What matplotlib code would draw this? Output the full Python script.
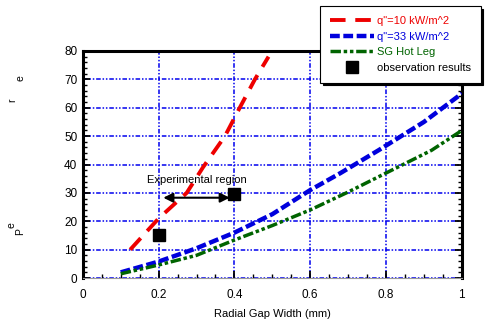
import matplotlib
matplotlib.use('Agg')
import matplotlib.pyplot as plt
from matplotlib.ticker import MultipleLocator

# curve data
red_x = [0.125, 0.2, 0.274, 0.317, 0.375, 0.414, 0.454, 0.49]
red_y = [10, 21, 30, 39, 50, 60, 70, 78]
blue_x = [0.1, 0.2, 0.3, 0.4, 0.5, 0.6, 0.68, 0.78, 0.9, 1.0]
blue_y = [2, 5.8, 10.5, 16, 22.5, 31, 37, 45, 55, 65]
green_x = [0.1, 0.2, 0.3, 0.4, 0.5, 0.6, 0.7, 0.8, 0.92, 1.0]
green_y = [1.5, 4.6, 8, 13.4, 18.5, 24, 30.3, 37, 45, 52]
obs_x = [0.2, 0.4]
obs_y = [15, 29.5]
labels = ['q"=10 kW/m^2', 'q"=33 kW/m^2', 'SG Hot Leg', 'observation results']
xticks = [0, 0.2, 0.4, 0.6, 0.8, 1.0]
xtick_labels = ['0', '0.2', '0.4', '0.6', '0.8', '1']

plt.rcParams['font.family'] = ['Liberation Sans', 'DejaVu Sans']
fig = plt.figure(figsize=(5.02, 3.31), dpi=100)
ax = fig.add_axes([0.165, 0.160, 0.755, 0.686])

grid_kw = dict(color='#0000ee', lw=1.1, dashes=(3, 1.2, 1, 1.2, 1, 1.2), zorder=1)
for gx in [0.2, 0.4, 0.6, 0.8]:
    ax.axvline(gx, **grid_kw)
for gy in [0, 10, 20, 30, 40, 50, 60, 70, 80]:
    ax.axhline(gy, **grid_kw)

l1, = ax.plot(red_x, red_y, color='#ee0000', lw=2.8, dashes=(4, 2.5), zorder=3)
l2, = ax.plot(blue_x, blue_y, color='#0000dd', lw=3.2, dashes=(2.2, 0.8), zorder=3)
l3, = ax.plot(green_x, green_y, color='#006400', lw=2.5, dashes=(3, 0.8, 1, 0.8, 1, 0.8), zorder=3)
l4, = ax.plot(obs_x, obs_y, 's', color='black', ms=8, ls='none', zorder=4)

ax.annotate('', xy=(0.205, 28.3), xytext=(0.395, 28.3),
            arrowprops=dict(arrowstyle='<|-|>', color='black', lw=1.5, mutation_scale=14), zorder=5)
ax.text(0.3, 34.5, 'Experimental region', ha='center', va='center', fontsize=8)

ax.set_xlim(0, 1)
ax.set_ylim(0, 80)
ax.set_xticks(xticks)
ax.set_xticklabels(xtick_labels)
ax.xaxis.set_minor_locator(MultipleLocator(0.05))
ax.yaxis.set_major_locator(MultipleLocator(10))
ax.yaxis.set_minor_locator(MultipleLocator(2))
ax.tick_params(which='both', direction='in', right=True, top=False, labelsize=8.5, colors='black')
ax.tick_params(which='major', length=5, width=1.3, pad=8)
ax.tick_params(which='minor', length=3, width=1)
ax.tick_params(axis='y', which='both', pad=4)
for s in ['left', 'right', 'top']:
    ax.spines[s].set_linewidth(2.2)
ax.spines['bottom'].set_linewidth(0.8)
ax.spines['bottom'].set_color('#999999')
ax.set_xlabel('Radial Gap Width (mm)', fontsize=8, labelpad=6)

# odd y label fragments
fig.text(12 / 502, 1 - 100 / 331, 'r', rotation=90, ha='center', va='center', fontsize=7.5)
fig.text(21 / 502, 1 - 78 / 331, 'e', rotation=90, ha='center', va='center', fontsize=7.5)
fig.text(20 / 502, 1 - 232 / 331, 'P', rotation=90, ha='center', va='center', fontsize=7.5)
fig.text(12 / 502, 1 - 225 / 331, 'e', rotation=90, ha='center', va='center', fontsize=7.5)

leg = fig.legend([l1, l2, l3, l4], labels, loc='upper left',
                 bbox_to_anchor=(320 / 502, 1 - 6 / 331), fontsize=8,
                 frameon=True, fancybox=False, shadow={'color': 'black', 'alpha': 1},
                 handlelength=4, handletextpad=0.2,
                 borderpad=0.9, labelspacing=0.5, borderaxespad=0)
leg.get_frame().set_edgecolor('black')
leg.get_frame().set_linewidth(0.8)
for t, c in zip(leg.get_texts(), ['#ee0000', '#0000dd', '#006400', 'black']):
    t.set_color(c)

fig.savefig('out.png', dpi=100)
